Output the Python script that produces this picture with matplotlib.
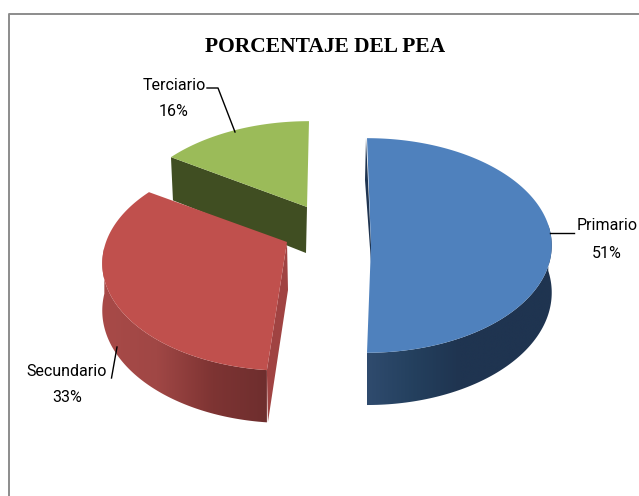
import numpy as np
import matplotlib
matplotlib.use('Agg')
import matplotlib.pyplot as plt
from matplotlib.colors import LinearSegmentedColormap
from matplotlib.patches import Polygon

# datos
categorias = ['Primario', 'Secundario', 'Terciario']
porcentajes = [51, 33, 16]
titulo = 'PORCENTAJE DEL PEA'

# proyeccion del pastel 3D, en pixeles
RX, RY, P, DEPTH = 181, 103, 0.2, 46


def proyectar(cx, cy, theta):
    # theta en grados, sentido horario desde arriba
    t = np.radians(theta)
    u, v = np.sin(t), np.cos(t)
    den = 1 + P * v
    return cx + RX * u / den, cy - RY * v / den, DEPTH / (1 + 0.6 * P * v)


def gradiente(ax, poligono, colores, x0, x1, y0, y1):
    cmap = LinearSegmentedColormap.from_list('g', colores)
    im = ax.imshow(np.linspace(0, 1, 256).reshape(1, -1), cmap=cmap, aspect='auto',
                   extent=(x0, x1, y1, y0), zorder=poligono.get_zorder(), interpolation='bilinear')
    ax.add_patch(poligono)
    poligono.set_facecolor('none')
    poligono.set_edgecolor('none')
    im.set_clip_path(poligono)


fig = plt.figure(figsize=(6.39, 4.96), dpi=100)
ax = fig.add_axes([0, 0, 1, 1])
ax.axis('off')

ax.plot([9, 9, 638], [496, 14, 14], color='#8c8c8c', lw=1.4, zorder=0)

acum = np.cumsum([0] + porcentajes) * 3.6

# Terciario
ang = np.linspace(acum[2], acum[3], 80)
xs, ys, ds = proyectar(307, 207, ang)
xs = xs + 2 * (ang - ang[0]) / (ang[-1] - ang[0]) + 2 * (ang[-1] - ang) / (ang[-1] - ang[0])
ax.add_patch(Polygon([(xs[0], ys[0]), (307, 207), (306, 207 + DEPTH),
                      (xs[0] + 2, ys[0] + ds[0])], fc='#404e22', ec='none', zorder=1))
ax.add_patch(Polygon(np.r_[np.c_[xs, ys], [[307, 207]]], fc='#9bbb59', ec='none', zorder=2))

# Secundario
ang = np.linspace(acum[1] + 1.5, acum[2], 160)
xs, ys, ds = proyectar(287, 242, ang)
visible = ys > 242 + 5
xv, yv, dv = xs[visible], ys[visible], ds[visible]
pared = Polygon(np.r_[np.c_[xv, yv], np.c_[xv, yv + dv][::-1]], zorder=3)
gradiente(ax, pared, ['#6e2e2e', '#7e3433', '#a04745', '#a84a48'], 268, 102, 240, 430)
ax.add_patch(Polygon([(287, 242), (288, 242 + DEPTH + 2), (xs[0] + 1, ys[0] + ds[0]), (xs[0], ys[0])],
                     fc='#a04342', ec='none', zorder=3))
ax.add_patch(Polygon(np.r_[np.c_[xs, ys], [[287, 242]]], fc='#c0504d', ec='none', zorder=4))

# Primario
ang = np.linspace(acum[0], acum[1] - 3.6, 200)
xs, ys, ds = proyectar(367, 224, ang)
ax.add_patch(Polygon([(366, 138), (371, 245), (371, 262), (365, 180)], fc='#1f3450', ec='none', zorder=4))
visible = ys > 224
xv, yv, dv = xs[visible], ys[visible], ds[visible]
pared = Polygon(np.r_[np.c_[xv, yv], np.c_[xv, yv + dv][::-1]], zorder=4)
gradiente(ax, pared, ['#2f4b6e', '#24405e', '#1f3450', '#1f3450', '#1f3450'], 367, 552, 220, 410)
ax.add_patch(Polygon(np.r_[np.c_[xs, ys], [[371, 245]]], fc='#4f81bd', ec='none', zorder=5))

# lineas guia
ax.plot([550, 574], [233, 233], color='black', lw=1, zorder=6)
ax.plot([207, 218, 235], [88, 88, 132], color='black', lw=1, zorder=6)
ax.plot([117, 111.5], [347, 378], color='black', lw=1, zorder=6)

# textos
fuente = ['Roboto', 'DejaVu Sans']
for nombre, valor, x, y in zip(categorias, porcentajes, [607, 67, 174], [226, 371, 85]):
    ax.text(x, y, nombre, ha='center', va='center', fontsize=11.5, family=fuente, zorder=7)
    ax.text(x, y + 27, f'{valor}%', ha='center', va='center', fontsize=11.5, family=fuente, zorder=7)
ax.text(325, 47, titulo, ha='center', va='center', fontsize=15.5, fontweight='bold',
        family='Liberation Serif', zorder=7)

ax.set_xlim(0, 639)
ax.set_ylim(496, 0)
fig.savefig('out.png', dpi=100)
